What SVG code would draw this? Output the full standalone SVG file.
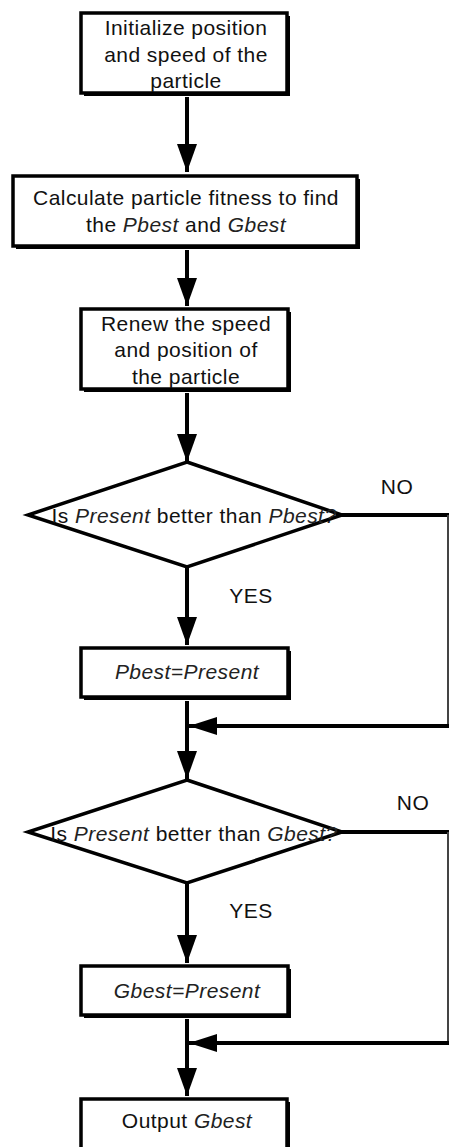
<svg xmlns="http://www.w3.org/2000/svg" width="449" height="1147" viewBox="0 0 449 1147">
<defs>
<style>
text{font-family:"Liberation Sans",Arial,sans-serif;font-size:21px;letter-spacing:0.45px;fill:#111;text-anchor:middle}
.i{font-style:italic;fill:#222}
.box{fill:#fff;stroke:#000;stroke-width:3.5}
.sh{fill:#000}
.dia{fill:#fff;stroke:#000;stroke-width:3.5;stroke-linejoin:miter}
.ln{fill:none;stroke:#000;stroke-width:4}
.thin{fill:none;stroke:#444;stroke-width:2}
</style>
<marker id="ah" viewBox="0 0 28 20" refX="28" refY="10" markerWidth="28" markerHeight="20" markerUnits="userSpaceOnUse" orient="auto">
<path d="M0,0 L28,10 L0,20 Z" fill="#000"/>
</marker>
<marker id="ahs" viewBox="0 0 28 18" refX="28" refY="9" markerWidth="28" markerHeight="18" markerUnits="userSpaceOnUse" orient="auto">
<path d="M0,0 L28,9 L0,18 Z" fill="#000"/>
</marker>
</defs>
<g id="connectors">
<line class="ln" x1="187" y1="97" x2="187" y2="172" marker-end="url(#ah)"/>
<line class="ln" x1="187" y1="250" x2="187" y2="306" marker-end="url(#ah)"/>
<line class="ln" x1="187" y1="393" x2="187" y2="462" marker-end="url(#ah)"/>
<line class="ln" x1="187" y1="567" x2="187" y2="645" marker-end="url(#ah)"/>
<line class="ln" x1="187" y1="701" x2="187" y2="779" marker-end="url(#ah)"/>
<line class="ln" x1="187" y1="883" x2="187" y2="963" marker-end="url(#ah)"/>
<line class="ln" x1="187" y1="1019" x2="187" y2="1096" marker-end="url(#ah)"/>
<line class="ln" x1="340" y1="515" x2="449" y2="515"/>
<line class="thin" x1="448" y1="515" x2="448" y2="726"/>
<line class="ln" x1="449" y1="726" x2="189" y2="726" marker-end="url(#ahs)"/>
<line class="ln" x1="340" y1="832" x2="449" y2="832"/>
<line class="thin" x1="448" y1="832" x2="448" y2="1043"/>
<line class="ln" x1="449" y1="1043" x2="189" y2="1043" marker-end="url(#ahs)"/>
<text x="397" y="494">NO</text>
<text x="251" y="603">YES</text>
<text x="413" y="810">NO</text>
<text x="251" y="918">YES</text>
</g>
<g id="n1">
<rect class="sh" x="84" y="16" width="206" height="80"/>
<rect class="box" x="81" y="13" width="206" height="80"/>
<text x="186" y="35">Initialize position</text>
<text x="186" y="62">and speed of the</text>
<text x="186" y="88">particle</text>
</g>
<g id="n2">
<rect class="sh" x="16" y="179" width="344" height="70"/>
<rect class="box" x="13" y="176" width="344" height="70"/>
<text x="186" y="205">Calculate particle fitness to find</text>
<text x="186" y="232">the <tspan class="i">Pbest</tspan> and <tspan class="i">Gbest</tspan></text>
</g>
<g id="n3">
<rect class="sh" x="84" y="312" width="207" height="80"/>
<rect class="box" x="81" y="309" width="207" height="80"/>
<text x="186" y="331">Renew the speed</text>
<text x="186" y="357">and position of</text>
<text x="186" y="384">the particle</text>
</g>
<g id="d1">
<polygon class="dia" points="187,462 342,515 187,567 28,515"/>
<text x="194" y="523">Is <tspan class="i">Present</tspan> better than <tspan class="i">Pbest?</tspan></text>
</g>
<g id="n4">
<rect class="sh" x="84" y="651" width="207" height="49"/>
<rect class="box" x="81" y="648" width="207" height="49"/>
<text class="i" x="187" y="679">Pbest=Present</text>
</g>
<g id="d2">
<polygon class="dia" points="187,780 342,832 187,883 28,832"/>
<text x="194" y="841">Is <tspan class="i">Present</tspan> better than <tspan class="i">Gbest?</tspan></text>
</g>
<g id="n5">
<rect class="sh" x="84" y="969" width="207" height="49"/>
<rect class="box" x="81" y="966" width="207" height="49"/>
<text class="i" x="187" y="998">Gbest=Present</text>
</g>
<g id="n6">
<rect class="sh" x="84" y="1102" width="206" height="60"/>
<rect class="box" x="81" y="1099" width="206" height="60"/>
<text x="187" y="1128">Output <tspan class="i">Gbest</tspan></text>
</g>
</svg>
